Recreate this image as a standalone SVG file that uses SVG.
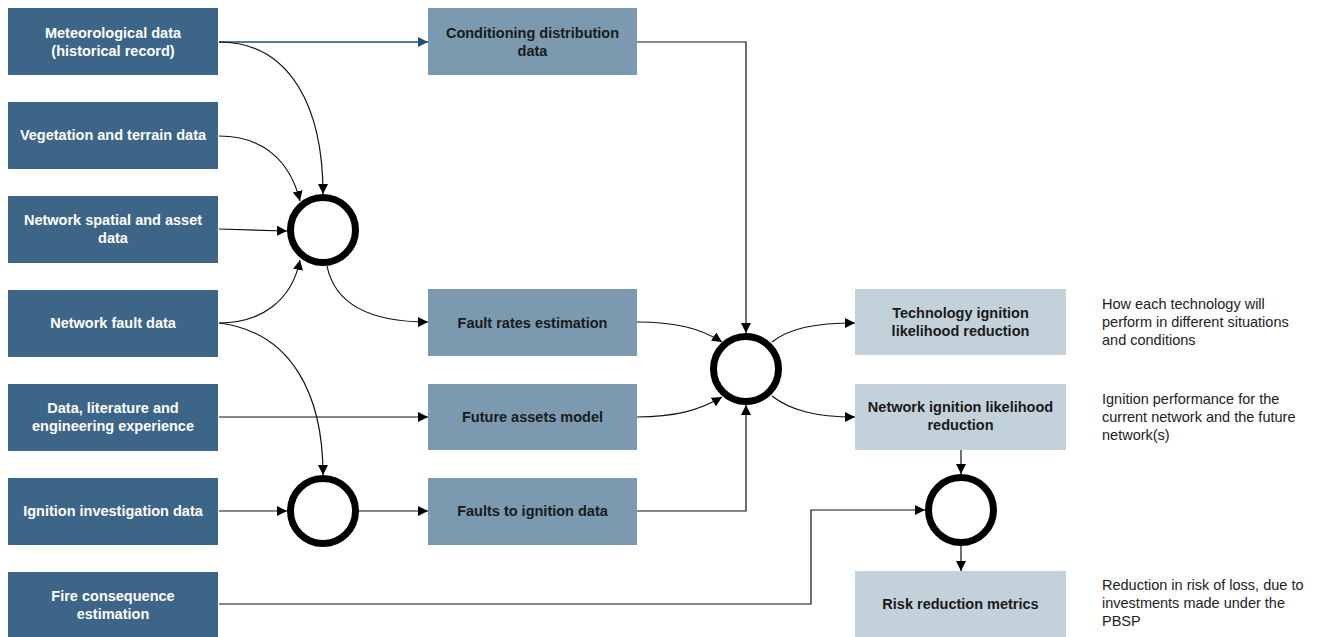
<svg xmlns="http://www.w3.org/2000/svg" width="1322" height="637" viewBox="0 0 1322 637">
<style>
.lb{fill:#3D6587}
.mb{fill:#7B9AB0}
.rb{fill:#C3D1DB}
.t{font-family:"Liberation Sans",Arial,sans-serif;font-size:14.5px;font-weight:bold;text-anchor:middle}
.lt{fill:#ffffff}
.dt{fill:#1a1a1a}
.an{font-family:"Liberation Sans",Arial,sans-serif;font-size:14.5px;fill:#222222}
.c{fill:none;stroke:#000000;stroke-width:7}
.e{fill:none;stroke:#111111;stroke-width:1.2;marker-end:url(#ah)}
.eb{fill:none;stroke:#1F4E79;stroke-width:1.4;marker-end:url(#ahb)}
</style>
<defs>
<marker id="ah" viewBox="0 0 10 10" refX="10" refY="5" markerWidth="10" markerHeight="10" markerUnits="userSpaceOnUse" orient="auto"><path d="M0,0 L10,5 L0,10 z" fill="#000000"/></marker>
<marker id="ahb" viewBox="0 0 10 10" refX="10" refY="5" markerWidth="10" markerHeight="10" markerUnits="userSpaceOnUse" orient="auto"><path d="M0,0 L10,5 L0,10 z" fill="#1F4E79"/></marker>
</defs>
<rect width="1322" height="637" fill="#ffffff"/>

<g id="connectors">
<path class="eb" d="M219,42 H428"/>
<path class="e" d="M219,42 C292,42 323,110 323,194"/>
<path class="e" d="M219,136 C262,136 290,160 300,201"/>
<path class="e" d="M219,229 L287,231"/>
<path class="e" d="M219,323 C262,323 292,300 300,260"/>
<path class="e" d="M327,266 C335,305 370,322 428,322"/>
<path class="e" d="M219,323 C292,332 323,395 323,475"/>
<path class="e" d="M219,417 H428"/>
<path class="e" d="M219,511 H287"/>
<path class="e" d="M359,511 H428"/>
<path class="e" d="M637,42 H746 V333"/>
<path class="e" d="M637,322 C675,322 700,328 722,342"/>
<path class="e" d="M637,417 C675,417 700,410 722,397"/>
<path class="e" d="M637,511 H746 V405"/>
<path class="e" d="M772,342 C790,328 815,323 855,323"/>
<path class="e" d="M772,396 C790,410 815,417 855,417"/>
<path class="e" d="M961,450 V474"/>
<path class="e" d="M219,604 H811 V510 H925"/>
<path class="e" d="M961,546 V571"/>
</g>

<g id="merge1"><circle class="c" cx="323" cy="230" r="32.5"/></g>
<g id="merge2"><circle class="c" cx="323" cy="511" r="32.5"/></g>
<g id="merge3"><circle class="c" cx="746" cy="369" r="32.5"/></g>
<g id="merge4"><circle class="c" cx="961" cy="510" r="32.5"/></g>

<g id="meteo"><rect class="lb" x="8" y="8" width="210" height="67"/><text class="t lt" x="113" y="38">Meteorological data</text><text class="t lt" x="113" y="56">(historical record)</text></g>
<g id="veg"><rect class="lb" x="8" y="102" width="210" height="67"/><text class="t lt" x="113" y="140">Vegetation and terrain data</text></g>
<g id="spatial"><rect class="lb" x="8" y="196" width="210" height="67"/><text class="t lt" x="113" y="225">Network spatial and asset</text><text class="t lt" x="113" y="243">data</text></g>
<g id="fault"><rect class="lb" x="8" y="290" width="210" height="67"/><text class="t lt" x="113" y="328">Network fault data</text></g>
<g id="lit"><rect class="lb" x="8" y="384" width="210" height="67"/><text class="t lt" x="113" y="413">Data, literature and</text><text class="t lt" x="113" y="431">engineering experience</text></g>
<g id="ignit"><rect class="lb" x="8" y="478" width="210" height="67"/><text class="t lt" x="113" y="516">Ignition investigation data</text></g>
<g id="fire"><rect class="lb" x="8" y="572" width="210" height="65"/><text class="t lt" x="113" y="601">Fire consequence</text><text class="t lt" x="113" y="619">estimation</text></g>

<g id="cond"><rect class="mb" x="428" y="8" width="209" height="67"/><text class="t dt" x="532.5" y="38">Conditioning distribution</text><text class="t dt" x="532.5" y="56">data</text></g>
<g id="frates"><rect class="mb" x="428" y="289" width="209" height="67"/><text class="t dt" x="532.5" y="328">Fault rates estimation</text></g>
<g id="future"><rect class="mb" x="428" y="384" width="209" height="66"/><text class="t dt" x="532.5" y="422">Future assets model</text></g>
<g id="f2i"><rect class="mb" x="428" y="478" width="209" height="67"/><text class="t dt" x="532.5" y="516">Faults to ignition data</text></g>

<g id="tech"><rect class="rb" x="855" y="289" width="211" height="66"/><text class="t dt" x="960.5" y="318">Technology ignition</text><text class="t dt" x="960.5" y="336">likelihood reduction</text></g>
<g id="netred"><rect class="rb" x="855" y="384" width="211" height="66"/><text class="t dt" x="960.5" y="412">Network ignition likelihood</text><text class="t dt" x="960.5" y="430">reduction</text></g>
<g id="risk"><rect class="rb" x="855" y="571" width="211" height="66"/><text class="t dt" x="960.5" y="609">Risk reduction metrics</text></g>

<g id="notes">
<text class="an" x="1102" y="309">How each technology will</text>
<text class="an" x="1102" y="327">perform in different situations</text>
<text class="an" x="1102" y="345">and conditions</text>
<text class="an" x="1102" y="404">Ignition performance for the</text>
<text class="an" x="1102" y="422">current network and the future</text>
<text class="an" x="1102" y="440">network(s)</text>
<text class="an" x="1102" y="590">Reduction in risk of loss, due to</text>
<text class="an" x="1102" y="608">investments made under the</text>
<text class="an" x="1102" y="626">PBSP</text>
</g>
</svg>
